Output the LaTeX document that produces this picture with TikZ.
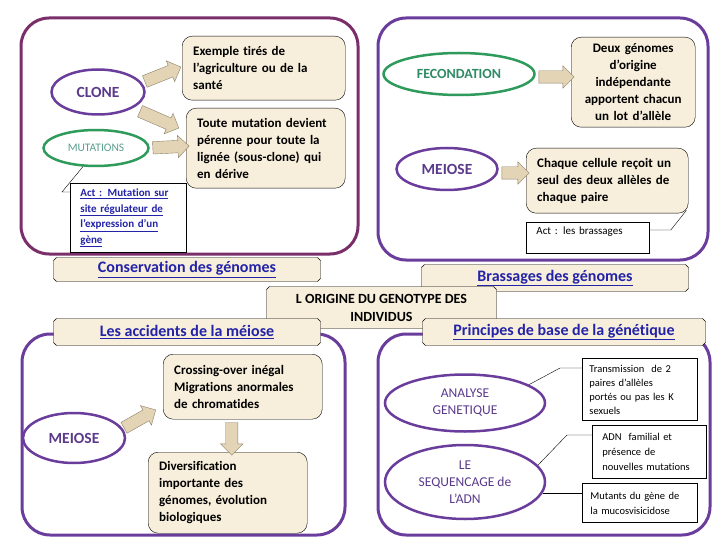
\documentclass[tikz,border=0pt]{standalone}
\usepackage{fontspec}
\setmainfont{Carlito}[Ligatures={NoCommon}]
\usetikzlibrary{shapes.geometric,shapes.arrows,shapes.misc,calc}
\definecolor{prune}{HTML}{7A2E6A}
\definecolor{mauve}{HTML}{6A3D9C}
\definecolor{mauvetexte}{HTML}{5B3A8C}
\definecolor{vertbord}{HTML}{2E9B5C}
\definecolor{verttexte}{HTML}{2F8A66}
\definecolor{vertpale}{HTML}{5AA08E}
\definecolor{lien}{HTML}{2323A8}
\definecolor{sable}{HTML}{F7EEDB}
\definecolor{fleche}{HTML}{E2D4B4}
\definecolor{flechebord}{HTML}{8C8068}
\tikzset{
  cadre/.style={line width=3pt,rounded corners=28pt},
  bulle/.style={draw,fill=sable,rounded corners=10pt,anchor=north west,align=left,inner ysep=0pt,inner xsep=11pt,font=\bfseries\fontsize{13}{17}\selectfont},
  ovale/.style={ellipse,line width=2.5pt,inner sep=0pt,fill=white,align=center,font=\bfseries\fontsize{15.5}{18}\selectfont},
  actbox/.style={draw,fill=white,thick,anchor=north west,align=left,inner ysep=0pt},
  ruban/.style={chamfered rectangle,chamfered rectangle xsep=1.5pt,chamfered rectangle ysep=1.5pt,draw,fill=sable,inner sep=0pt,font=\bfseries\fontsize{16}{18}\selectfont},
  grosse/.style={single arrow,draw=flechebord,fill=fleche,inner sep=6pt,single arrow head extend=5pt}
}
\newcommand\fleche[2]{%
  \path let \p1=#1, \p2=#2, \p3=($#1!0.5!#2$) in
    node[grosse,minimum height={veclen((\x2)-(\x1),(\y2)-(\y1))},rotate={atan2((\y2)-(\y1),(\x2)-(\x1))}] at (\p3) {};}
\begin{document}
\begin{tikzpicture}[x=1pt,y=-1pt]
\useasboundingbox (0,0) rectangle (720,540);

\draw[cadre,draw=prune] (21,18) rectangle (358,254);
\draw[cadre,draw=mauve] (378,18) rectangle (708,260);
\draw[cadre,draw=mauve] (22,334) rectangle (345,535);
\draw[cadre,draw=mauve] (378,334) rectangle (710,535);

\node[ovale,draw=mauve,text=mauvetexte,minimum width=93,minimum height=45] (clone) at (98,92) {CLONE};
\node[ovale,draw=vertbord,text=vertpale,minimum width=105,minimum height=36,font=\fontsize{11.5}{13}\selectfont] (mut) at (96,148) {MUTATIONS};
\node[bulle,minimum height=64,text width=141] (exemple) at (182,36) {Exemple tirés de\\l’agriculture ou de la\\santé};
\node[bulle,minimum height=80,text width=137] (toute) at (186,108) {Toute mutation devient\\pérenne pour toute la\\lignée (sous-clone) qui\\en dérive};
\node[actbox,minimum height=69,text width=96,inner xsep=10pt,text=lien,font=\bfseries\fontsize{11}{15.5}\selectfont] (act1) at (70,183) {\underline{Act : Mutation sur}\\\underline{site régulateur de}\\\underline{l’expression d’un}\\\underline{gène}};
\fleche{(clone.12)}{([xshift=-4pt]exemple.west)}
\fleche{([xshift=8pt]clone.-30)}{([xshift=-10pt]toute.165)}
\fleche{(mut.east)}{([yshift=2pt]toute.west)}
\draw (mut.235) -- ([xshift=-8pt,yshift=-9pt]act1.north west) -- ([yshift=-9pt]act1.north west);

\node[ovale,draw=vertbord,text=verttexte,minimum width=151,minimum height=42,font=\bfseries\fontsize{14}{16}\selectfont] (fec) at (459,74) {FECONDATION};
\node[bulle,align=center,minimum height=90,text width=110,inner xsep=7pt] (deux) at (571,37) {Deux génomes\\d’origine\\indépendante\\apportent chacun\\un lot d’allèle};
\node[ovale,draw=mauve,text=mauvetexte,minimum width=101,minimum height=42] (meiohaut) at (447,169) {MEIOSE};
\node[bulle,minimum height=65,text width=140] (chaque) at (526,148) {Chaque cellule reçoit un\\seul des deux allèles de\\chaque paire};
\node[actbox,minimum width=123,minimum height=31,text width=103,inner xsep=10pt,text depth=14pt,font=\fontsize{11}{13}\selectfont] (act2) at (526,222) {Act : les brassages};
\fleche{([yshift=-3pt]fec.east)}{([yshift=-3pt]fec.east -| deux.west)}
\fleche{([yshift=-4pt]meiohaut.east)}{([yshift=-4pt]meiohaut.east -| chaque.west)}
\draw ([yshift=-8pt]act2.north east) -- ++(21,0) -- ([shift={(-2pt,3pt)}]chaque.south east);

\node[ruban,minimum width=267,minimum height=24,text=lien] (conservation) at (187,269.5) {\underline{Conservation des génomes}};
\node[ruban,minimum width=267,minimum height=27,text=lien] (brassages) at (555,278) {\underline{Brassages des génomes}};
\node[ruban,minimum width=230,minimum height=42,align=center,font=\bfseries\fontsize{14}{18}\selectfont] (origine) at (381.5,307.5) {L ORIGINE DU GENOTYPE DES\\INDIVIDUS};
\node[ruban,minimum width=267,minimum height=27,text=lien] (accidents) at (187,332) {\underline{Les accidents de la méiose}};
\node[ruban,minimum width=283,minimum height=27,text=lien] (principes) at (564,332) {\underline{Principes de base de la génétique}};

\node[ovale,draw=mauve,text=mauvetexte,minimum width=102,minimum height=50] (meiobas) at (74,438) {MEIOSE};
\node[bulle,minimum height=65,text width=137] (crossing) at (163,354) {Crossing-over inégal\\Migrations anormales\\de chromatides};
\node[bulle,minimum height=81,text width=137] (diversification) at (148,452) {Diversification\\importante des\\génomes, évolution\\biologiques};
\fleche{([xshift=-2pt]meiobas.10)}{([shift={(-10pt,8pt)}]crossing.south west)}
\fleche{([xshift=-11pt]crossing.south)}{([xshift=-11pt]crossing.south |- diversification.north)}

\node[ovale,draw=mauve,text=mauvetexte,minimum width=160,minimum height=57,font=\fontsize{13.5}{17}\selectfont] (analyse) at (465,403) {ANALYSE\\GENETIQUE};
\node[ovale,draw=mauve,text=mauvetexte,minimum width=160,minimum height=74,font=\fontsize{13.5}{17}\selectfont] (sequencage) at (465,482) {LE\\SEQUENCAGE de\\L’ADN};
\node[actbox,minimum height=62,text width=101,inner xsep=7pt,font=\fontsize{10.5}{14}\selectfont] (transmission) at (582,358) {Transmission~ de 2\\paires d’allèles\\portés ou pas les K\\sexuels};
\node[actbox,minimum height=53,text width=94,inner xsep=10pt,font=\fontsize{10.5}{15}\selectfont] (adn) at (592,425) {ADN~ familial et\\présence de\\nouvelles mutations};
\node[actbox,minimum height=39,text width=99,inner xsep=8pt,font=\fontsize{10.5}{15}\selectfont] (mutants) at (582,483) {Mutants du gène de\\la mucosvisicidose};
\draw (analyse.16) -- ([xshift=-22pt,yshift=-10pt]transmission.north west) -- ([yshift=-10pt]transmission.north west);
\draw (sequencage.13) -- ([xshift=-25pt,yshift=-10pt]adn.north west) -- ([yshift=-10pt]adn.north west);
\draw (sequencage.-8) -- (sequencage.-8 -| mutants.west);
\end{tikzpicture}
\end{document}
